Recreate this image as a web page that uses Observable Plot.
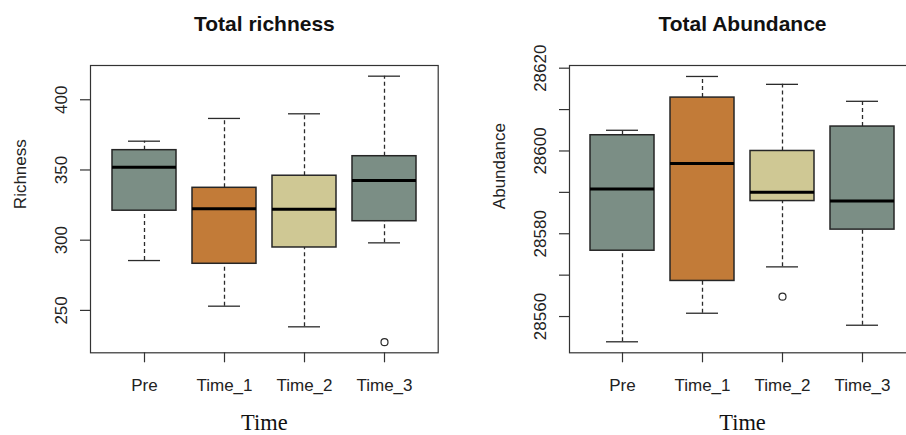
<!DOCTYPE html>
<html><head><meta charset="utf-8">
<script src="https://cdn.jsdelivr.net/npm/d3@7"></script>
<script src="https://cdn.jsdelivr.net/npm/@observablehq/plot@0.6"></script>
<style>
html,body{margin:0;padding:0;background:#fff;overflow:hidden;width:906px;height:435px;position:relative;}
.panel{position:absolute;top:0;}
.panel svg{max-width:none !important;}
#left{left:0;width:453px;}
#right{left:453px;width:470px;}
</style></head><body><div id="left" class="panel"></div><div id="right" class="panel"></div>
<script>
const categories = ["Pre", "Time_1", "Time_2", "Time_3"];
const boxColors = ["#7b8e85", "#c27b38", "#cfc894", "#7b8e85"];

// Total richness
const richLow = [285.5, 253, 238.3, 298.1];
const richQ1 = [321, 283.2, 294.8, 313.5];
const richMed = [352, 322.4, 322.1, 342.5];
const richQ3 = [364.1, 337.3, 345.9, 359.8];
const richHigh = [370.5, 386.7, 390, 416.8];
const richOutliers = [{cat: "Time_3", value: 227.4}];
const richTicks = [250, 300, 350, 400];

// Total abundance
const abLow = [28553.9, 28560.8, 28572, 28557.9];
const abQ1 = [28575.9, 28568.6, 28587.9, 28581];
const abMed = [28590.8, 28597, 28590, 28587.9];
const abQ3 = [28603.8, 28612.9, 28600, 28605.9];
const abHigh = [28605, 28618, 28616.1, 28612];
const abOutliers = [{cat: "Time_2", value: 28564.8}];
const abTicks = [28560, 28570, 28580, 28590, 28600, 28610, 28620];
const abLabelTicks = [28560, 28580, 28600, 28620];

const SANS = "'Liberation Sans', Arial, Helvetica, sans-serif";
const SERIF = "'Liberation Serif', 'Times New Roman', serif";

function panel({title, ylabel, low, q1, med, q3, high, outliers, yDomain, yTicks, yLabelTicks, width, marginLeft, marginRight}) {
  const rows = categories.map((c, i) => ({cat: c, low: low[i], q1: q1[i], med: med[i], q3: q3[i], high: high[i]}));
  const line = "#2b2b2b";
  return Plot.plot({
    width, height: 435,
    marginTop: 65, marginBottom: 82.7, marginLeft, marginRight,
    style: {fontFamily: SANS, background: "white", color: "#222", overflow: "visible"},
    x: {type: "band", domain: categories, paddingInner: 0.2, paddingOuter: 0.26, align: 0.5, axis: null},
    y: {domain: yDomain, axis: null},
    color: {domain: categories, range: boxColors},
    marks: [
      Plot.ruleX(rows, {x: "cat", y1: "q3", y2: "high", stroke: line, strokeWidth: 1.3, strokeDasharray: "4,3"}),
      Plot.ruleX(rows, {x: "cat", y1: "low", y2: "q1", stroke: line, strokeWidth: 1.3, strokeDasharray: "4,3"}),
      Plot.tickY(rows, {x: "cat", y: "high", insetLeft: 16, insetRight: 16, stroke: line, strokeWidth: 1.3}),
      Plot.tickY(rows, {x: "cat", y: "low", insetLeft: 16, insetRight: 16, stroke: line, strokeWidth: 1.3}),
      Plot.barY(rows, {x: "cat", y1: "q1", y2: "q3", fill: "cat", stroke: "#262626", strokeWidth: 1.5}),
      Plot.tickY(rows, {x: "cat", y: "med", stroke: "#000", strokeWidth: 3}),
      Plot.dot(outliers, {x: "cat", y: "value", r: 3.5, stroke: line, strokeWidth: 1.2, fill: "none"}),
      Plot.frame({stroke: "#333", strokeWidth: 1.2}),
      Plot.axisX({tickSize: 10, tickPadding: 16.6, fontSize: 17, label: null, stroke: "#333", strokeWidth: 1.2}),
      Plot.axisY({ticks: yTicks, tickSize: 10, tickPadding: 13.5, tickRotate: -90,
        tickFormat: d => yLabelTicks.includes(d) ? String(d) : "", fontSize: 17, label: null, stroke: "#333", strokeWidth: 1.2}),
      Plot.text([title], {frameAnchor: "top", dy: -35, lineAnchor: "bottom", fontWeight: "bold", fontSize: 21, fill: "#111"}),
      Plot.text([ylabel], {frameAnchor: "left", rotate: -90, dx: -65, lineAnchor: "bottom", fontSize: 17, fill: "#222"}),
      Plot.text(["Time"], {frameAnchor: "bottom", dy: 77.3, lineAnchor: "bottom", fontFamily: SERIF, fontSize: 22.4, fill: "#111"})
    ]
  });
}

document.getElementById("left").append(panel({
  title: "Total richness", ylabel: "Richness",
  low: richLow, q1: richQ1, med: richMed, q3: richQ3, high: richHigh, outliers: richOutliers,
  yDomain: [219.8, 424.4], yTicks: richTicks, yLabelTicks: richTicks,
  width: 453, marginLeft: 90, marginRight: 15.3
}));
document.getElementById("right").append(panel({
  title: "Total Abundance", ylabel: "Abundance",
  low: abLow, q1: abQ1, med: abMed, q3: abQ3, high: abHigh, outliers: abOutliers,
  yDomain: [28551.24, 28620.65], yTicks: abTicks, yLabelTicks: abLabelTicks,
  width: 470, marginLeft: 116, marginRight: 8
}));
</script></body></html>
